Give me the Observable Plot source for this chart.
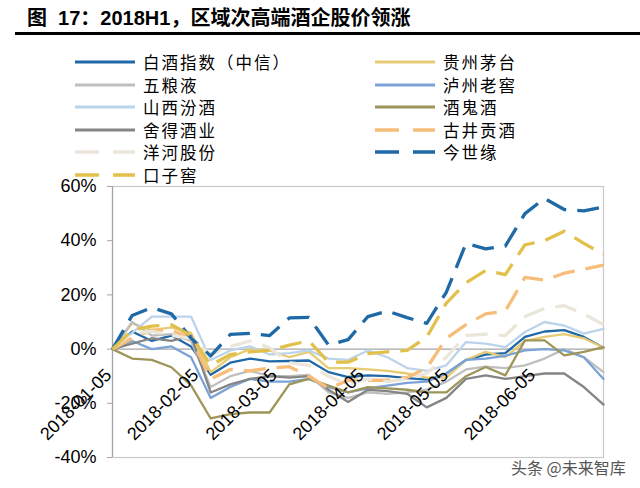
<!DOCTYPE html>
<html><head><meta charset="utf-8">
<script src="https://cdn.jsdelivr.net/npm/d3@7"></script>
<script src="https://cdn.jsdelivr.net/npm/@observablehq/plot@0.6"></script>
<style>
body{margin:0;background:#fff;width:640px;height:488px;overflow:hidden;position:relative;font-family:"Liberation Sans","Noto Sans CJK SC",sans-serif;}
#title{position:absolute;left:27px;top:2px;font-size:20px;font-weight:bold;color:#000;white-space:pre;font-family:"Liberation Sans","Noto Sans CJK SC",sans-serif;}
#rule{position:absolute;left:15px;top:32px;width:625px;height:2.5px;background:#000;}
#chart{position:absolute;left:0;top:0;}
.item{position:absolute;height:22px;display:flex;align-items:center;font-family:"Noto Sans CJK SC",sans-serif;font-size:16.5px;letter-spacing:2px;color:#000;white-space:nowrap;}
.item svg{margin-right:8px;}
#wm{position:absolute;left:511px;top:455px;font-family:"Noto Sans CJK SC",sans-serif;font-size:16px;color:#555;text-shadow:0 0 2px #fff,0 0 2px #fff;}
</style></head>
<body>
<div id="chart"></div>
<div id="title">图  17：2018H1，区域次高端酒企股价领涨</div>
<div id="rule"></div>
<div id="legend"></div>
<div id="wm">头条 @未来智库</div>
<script>
const dates = ["2018-01-05","2018-01-12","2018-01-19","2018-01-26","2018-02-02","2018-02-09","2018-02-16","2018-02-23","2018-03-02","2018-03-09","2018-03-16","2018-03-23","2018-03-30","2018-04-06","2018-04-13","2018-04-20","2018-04-27","2018-05-04","2018-05-11","2018-05-18","2018-05-25","2018-06-01","2018-06-08","2018-06-15","2018-06-22","2018-06-29"];
const xTickLabels = ["2018-01-05","2018-02-05","2018-03-05","2018-04-05","2018-05-05","2018-06-05"];
const yTicks = [-40,-20,0,20,40,60];

const baijiu   = [0,6.5,3,5,1,-9.5,-5,-3.5,-4.5,-4.4,-4.2,-8.5,-10.3,-9.7,-10,-10.7,-11.3,-9,-4,-2,-1.5,4.5,6.5,7,4.5,0.5];
const maotai   = [0,9.5,7,8,6,-8.5,-3,0,-0.5,-3,-1,-7,-7,-7.5,-8,-9,-10.5,-10.5,-4,-1,-3,3,4.5,5.5,4,0.5];
const wuliangye= [0,10,5,5.5,3,-14,-10,-8,-10,-10,-9.5,-16,-18,-16,-16.5,-16,-15,-12,-7.5,-6.5,-7,-6,-3.5,0,-3,-8.5];
const luzhou   = [0,3,0,1,-3,-18,-14,-11,-12,-12,-11,-14,-16,-14.5,-13.5,-12.5,-12,-9,-4,-3.5,-2.5,-0.5,0,-0.5,-3,-11];
const fenjiu   = [0,6,12,12,12,-4,-0.5,1,-2,-1.5,-0.5,-3.5,-4,-0.5,-3,-7,-8,-6,2.6,2,0.7,6.3,10,8.7,5.7,7.5];
const jiuguijiu= [0,-3.5,-4,-6.7,-13.4,-25.6,-24,-23.4,-23.4,-13,-11,-13.5,-16,-14,-14.5,-15,-16,-16,-10,-6.6,-9.7,3.2,3.2,-2.3,-1,0.7];
const shede    = [0,2,4,3,5,-16,-13,-11,-10,-10.5,-10,-15,-19.5,-15,-15.5,-16.5,-21.5,-18,-11,-9.7,-11,-10,-9,-9,-14,-20.5];
const gujing   = [0,4,7,7,4,-11,-7.5,-8,-7,-6.5,-10,-14.5,-11.5,-11.5,-11.5,-10.5,-7,4,9,13,14,26.5,25.5,28,29.5,31];
const yanghe   = [0,6,6.5,5,4,-2,1,3,0.5,-5,-6,-10,-13,-11,-12,-11,-9,-3,5,5.5,5,12,15,16,13,9];
const jinshiyuan=[0,12.4,15.3,13,4,-2.5,5.4,5.8,5,11.5,11.7,1.5,3.5,12,14,11.6,9.5,21,39,37,38,50,55.6,51.5,51,52.4];
const kouzijiao= [0,7,8.5,9,5,-6,-2,-1,-0.5,1.5,3,-4.8,-4.8,-1.7,-1,-0.5,4.4,17,24.5,29,27.5,38.5,40,43.5,39,35];

const seriesNames = ["白酒指数（中信）","贵州茅台","五粮液","泸州老窖","山西汾酒","酒鬼酒","舍得酒业","古井贡酒","洋河股份","今世缘","口子窖"];
const seriesValues = [baijiu,maotai,wuliangye,luzhou,fenjiu,jiuguijiu,shede,gujing,yanghe,jinshiyuan,kouzijiao];
const seriesColors = ["#2068a6","#e7cb72","#bfbfbf","#7ba3d6","#bcd4eb","#9e955a","#858585","#f7bd7a","#ebe6da","#1f6aa6","#e2c04c"];
const seriesDashed = [false,false,false,false,false,false,false,true,true,true,true];

const parse = d3.utcParse("%Y-%m-%d");
const fmt = d3.utcFormat("%Y-%m-%d");
const rows = [];
seriesNames.forEach((name, k) => {
  seriesValues[k].forEach((v, i) => rows.push({series: name, date: parse(dates[i]), value: v}));
});

const lineMarks = seriesNames.map((name, k) => Plot.line(rows.filter(r => r.series === name), {
  x: "date", y: "value", stroke: seriesColors[k],
  strokeWidth: seriesDashed[k] ? 3.3 : 2.3,
  strokeDasharray: seriesDashed[k] ? "22,11" : null,
  strokeLinejoin: "round", strokeLinecap: seriesDashed[k] ? "butt" : "round"
}));

const xDomain = [parse(dates[0]), parse(dates[dates.length - 1])];

const chart = Plot.plot({
  width: 640, height: 488,
  marginLeft: 112, marginRight: 37, marginTop: 186, marginBottom: 31,
  style: {fontFamily: "Liberation Sans, Arial, sans-serif", background: "transparent"},
  x: {type: "utc", domain: xDomain, axis: null},
  y: {domain: [-40, 60], axis: null},
  marks: [
    Plot.frame({stroke: "#c9c9c9", strokeWidth: 1.2}),
    Plot.ruleX([xDomain[0]], {stroke: "#a3a3a3", strokeWidth: 1.2}),
    Plot.ruleY([0], {stroke: "#a6a6a6", strokeWidth: 1.3}),
    Plot.axisY({ticks: yTicks, tickSize: 5, tickPadding: 11, tickFormat: d => d + "%", fontSize: 18, stroke: "#a3a3a3", fill: "#000", label: null}),
    ...lineMarks,
    Plot.text(xTickLabels.map(parse), {
      x: d => d, y: () => 0, text: d => fmt(d),
      rotate: -45, textAnchor: "end", lineAnchor: "middle",
      dx: -4, dy: 23, fontSize: 18, fill: "#000"
    })
  ]
});
document.getElementById("chart").appendChild(chart);

// legend: row-wise order, two columns
const legend = document.getElementById("legend");
const colX = [75, 375];
const rowY = [62, 84.5, 107, 129.5, 152, 175];
seriesNames.forEach((name, k) => {
  const col = k % 2, row = Math.floor(k / 2);
  const div = document.createElement("div");
  div.className = "item";
  div.style.left = colX[col] + "px";
  div.style.top = (rowY[row] - 11) + "px";
  const dash = seriesDashed[k] ? 'stroke-dasharray="24,14"' : '';
  div.innerHTML = `<svg width="60" height="8"><line x1="0" y1="4" x2="60" y2="4" stroke="${seriesColors[k]}" stroke-width="${seriesDashed[k] ? 3.5 : 2.8}" ${dash}/></svg><span>${name}</span>`;
  legend.appendChild(div);
});
</script>
</body></html>
